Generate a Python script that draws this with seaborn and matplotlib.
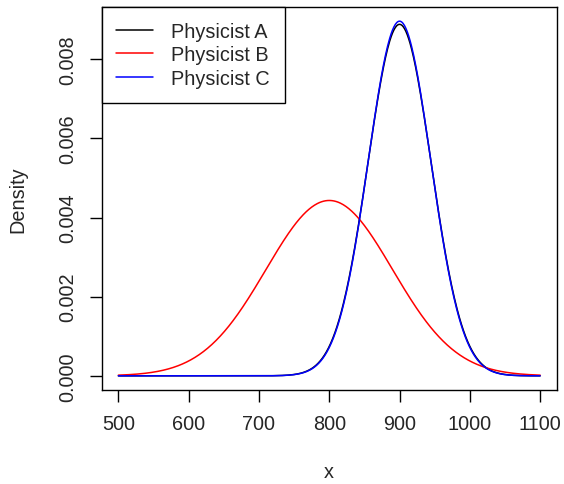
import numpy as np
import pandas as pd
import seaborn as sns
import matplotlib.pyplot as plt

# curves: each physicist's belief as a normal density
physicists = ['Physicist A', 'Physicist B', 'Physicist C']
means = [900, 800, 900]
sds = [44.9, 90.0, 44.5]
colors = ['black', 'red', 'blue']
x_ticks = [500, 600, 700, 800, 900, 1000, 1100]
y_ticks = [0.000, 0.002, 0.004, 0.006, 0.008]

x = np.linspace(500, 1100, 601)
frames = []
for name, m, s in zip(physicists, means, sds):
    d = np.exp(-0.5 * ((x - m) / s) ** 2) / (s * np.sqrt(2 * np.pi))
    frames.append(pd.DataFrame({'x': x, 'Density': d, 'who': name}))
df = pd.concat(frames, ignore_index=True)

sns.set_style('white')
plt.rcParams['font.family'] = ['Liberation Sans', 'DejaVu Sans']
fs = 14.3

fig = plt.figure(figsize=(5.64, 4.85), dpi=100)
ax = fig.add_axes([0.1800, 0.1938, 0.8076, 0.7897])

sns.lineplot(data=df, x='x', y='Density', hue='who', hue_order=physicists,
             palette=colors, linewidth=1.1, ax=ax)

ymax = df['Density'].max()
ax.set_xlim(476, 1124)
ax.set_ylim(-0.04 * ymax, 1.04 * ymax)
ax.set_xticks(x_ticks)
ax.set_yticks(y_ticks)
ax.set_yticklabels([f'{v:.3f}' for v in y_ticks], rotation=90, va='center')

for sp in ax.spines.values():
    sp.set_color('black')
    sp.set_linewidth(1.0)
ax.tick_params(axis='both', direction='out', length=8.5, width=1.0,
               color='black', labelsize=fs, pad=9,
               bottom=True, left=True)

ax.set_xlabel('x', fontsize=fs, va='center')
ax.xaxis.set_label_coords(0.5, -0.214)
ax.set_ylabel('Density', fontsize=fs, va='center')
ax.yaxis.set_label_coords(-0.183, 0.5)

leg = ax.legend(loc='upper left', bbox_to_anchor=(0, 1), borderaxespad=0,
                fontsize=fs, handlelength=1.85, handletextpad=0.9,
                labelspacing=0.22, borderpad=0.75, fancybox=False,
                framealpha=1, edgecolor='black', title=None)
leg.get_frame().set_linewidth(1.0)

fig.savefig('out.png', dpi=100)
